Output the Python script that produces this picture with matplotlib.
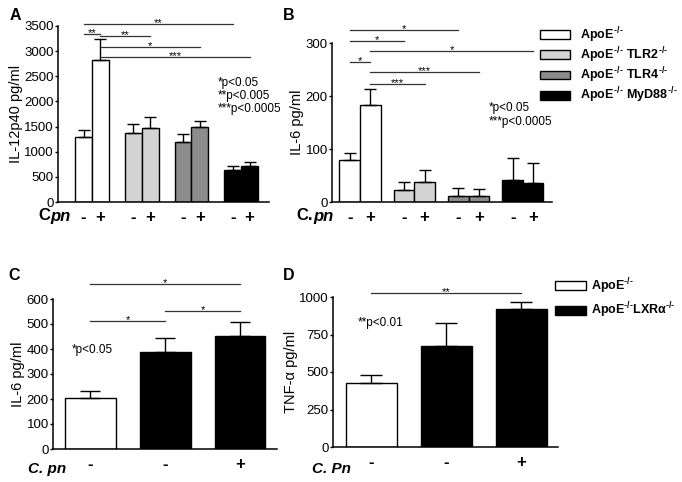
import matplotlib.pyplot as plt
from matplotlib.patches import Patch

plt.rcParams['font.family'] = ['Liberation Sans', 'DejaVu Sans']
plt.rcParams['mathtext.fontset'] = 'custom'
plt.rcParams['mathtext.rm'] = 'Liberation Sans'
plt.rcParams['mathtext.it'] = 'Liberation Sans:italic'
plt.rcParams['mathtext.bf'] = 'Liberation Sans:bold'
plt.rcParams['mathtext.default'] = 'regular'

# ---- data ----
# panel A: IL-12p40, 4 genotypes x (-/+ Cpn)
a_vals = [1290, 2830, 1380, 1470, 1190, 1490, 630, 720]
a_err = [150, 420, 170, 230, 170, 130, 90, 70]
# panel B: IL-6, same groups
b_vals = [80, 183, 22, 37, 12, 11, 42, 36]
b_err = [13, 30, 15, 23, 14, 13, 42, 37]
cpn_ab = ['-', '+'] * 4
ko = '$^{\\,\u2010/\u2010}$'
genotypes = ['ApoE' + ko, 'ApoE' + ko + ' TLR2' + ko,
             'ApoE' + ko + ' TLR4' + ko, 'ApoE' + ko + ' MyD88' + ko]
geno_colors = ['white', '#d3d3d3', '#8c8c8c', 'black']

# panels C and D
c_vals = [203, 388, 452]
c_err = [28, 57, 57]
d_vals = [430, 675, 922]
d_err = [50, 155, 46]
cpn_cd = ['-', '-', '+']
ko2 = '$^{\u2010/\u2010}$'
lxr_groups = ['ApoE' + ko2, 'ApoE' + ko2 + 'LXR\u03b1' + ko2]
cd_colors = ['white', 'black', 'black']

# significance lines: (bar i, bar j, height, stars)
a_sig = [(0, 6, 3540, '**'), (0, 1, 3340, '**'), (1, 3, 3300, '**'),
         (1, 5, 3080, '*'), (1, 7, 2880, '***')]
b_sig = [(0, 4, 326, '*'), (0, 2, 305, '*'), (1, 7, 285, '*'),
         (0, 1, 264, '*'), (1, 5, 246, '***'), (1, 3, 223, '***')]
c_sig = [(0, 2, 659, '*'), (1, 2, 552, '*'), (0, 1, 512, '*')]
d_sig = [(0, 2, 1028, '**')]

W, H = 682, 482
fig = plt.figure(figsize=(W / 100, H / 100), dpi=100)


def make_ax(x0, x1, y_top, y_bot):
    return fig.add_axes([x0 / W, 1 - y_bot / H, (x1 - x0) / W, (y_bot - y_top) / H])


def style(ax, ylabel, yticks):
    for s in ['top', 'right']:
        ax.spines[s].set_visible(False)
    for s in ['left', 'bottom']:
        ax.spines[s].set_linewidth(1.1)
    ax.set_ylim(yticks[0], yticks[-1])
    ax.set_yticks(yticks)
    ax.tick_params(axis='y', length=2.5, width=1, labelsize=9.5, pad=0.5)
    ax.tick_params(axis='x', length=0, labelsize=12, pad=6)
    for t in ax.get_xticklabels():
        t.set_fontweight('bold')
    ax.set_ylabel(ylabel, fontsize=10.5, labelpad=1)


def sig_lines(ax, xs, sig):
    for i, j, h, stars in sig:
        ax.plot([xs[i], xs[j]], [h, h], color='#333333', lw=0.9, clip_on=False)
        ax.annotate(stars, ((xs[i] + xs[j]) / 2, h), xytext=(0, -3),
                    textcoords='offset points', ha='center', va='bottom',
                    fontsize=8, annotation_clip=False)


# ---- panel A ----
axA = make_ax(58, 269, 26, 202)
wA = 0.34
xA = [g + (k - 0.5) * wA for g in range(4) for k in range(2)]
colA = [c for c in geno_colors for _ in range(2)]
axA.bar(xA, a_vals, width=wA, color=colA, edgecolor='black', lw=1)
axA.errorbar(xA, a_vals, yerr=[[0] * 8, a_err], fmt='none', ecolor='black',
             elinewidth=1, capsize=4, capthick=1)
axA.set_xlim(-0.684, 3.56)
axA.set_xticks(xA)
axA.set_xticklabels(cpn_ab)
style(axA, 'IL-12p40 pg/ml', list(range(0, 3501, 500)))
sig_lines(axA, xA, a_sig)
for k, t in enumerate(['*p<0.05', '**p<0.005', '***p<0.0005']):
    axA.text(2.52, 2360 - k * 260, t, fontsize=8.5, va='center')

# ---- panel B ----
axB = make_ax(332, 552, 43.3, 202)
wB = 0.378
xB = [g + (k - 0.5) * wB for g in range(4) for k in range(2)]
axB.bar(xB, b_vals, width=wB, color=colA, edgecolor='black', lw=1)
axB.errorbar(xB, b_vals, yerr=[[0] * 8, b_err], fmt='none', ecolor='black',
             elinewidth=1, capsize=4, capthick=1)
axB.set_xlim(-0.516, 3.536)
axB.set_xticks(xB)
axB.set_xticklabels(cpn_ab)
style(axB, 'IL-6 pg/ml', [0, 100, 200, 300])
sig_lines(axB, xB, b_sig)
axB.text(2.38, 178, '*p<0.05', fontsize=8.5, va='center')
axB.text(2.38, 152, '***p<0.0005', fontsize=8.5, va='center')
handles = [Patch(facecolor=c, edgecolor='black', lw=1) for c in geno_colors]
fig.legend(handles, genotypes, loc='upper left', bbox_to_anchor=(540 / W, 1 - 25 / H),
           frameon=False, prop={'weight': 'bold', 'size': 9}, handlelength=2.4,
           handleheight=0.7, handletextpad=0.8, labelspacing=0.05,
           borderpad=0, borderaxespad=0)

# ---- panel C ----
axC = make_ax(53, 277, 299, 449)
xC = list(range(3))
axC.bar(xC, c_vals, width=0.68, color=cd_colors, edgecolor='black', lw=1)
axC.errorbar(xC, c_vals, yerr=[[0] * 3, c_err], fmt='none', ecolor='black',
             elinewidth=1, capsize=7, capthick=1)
axC.set_xlim(-0.5, 2.495)
axC.set_xticks(xC)
axC.set_xticklabels(cpn_cd)
style(axC, 'IL-6 pg/ml', list(range(0, 601, 100)))
sig_lines(axC, xC, c_sig)
axC.text(-0.25, 398, '*p<0.05', fontsize=8.5, va='center')

# ---- panel D ----
axD = make_ax(333, 558, 297, 447)
xD = list(range(3))
axD.bar(xD, d_vals, width=0.68, color=cd_colors, edgecolor='black', lw=1)
axD.errorbar(xD, d_vals, yerr=[[0] * 3, d_err], fmt='none', ecolor='black',
             elinewidth=1, capsize=8, capthick=1)
axD.set_xlim(-0.513, 2.487)
axD.set_xticks(xD)
axD.set_xticklabels(cpn_cd)
style(axD, 'TNF-\u03b1 pg/ml', [0, 250, 500, 750, 1000])
sig_lines(axD, xD, d_sig)
axD.text(-0.18, 827, '**p<0.01', fontsize=8.5, va='center')
handles = [Patch(facecolor=c, edgecolor='black', lw=1) for c in ['white', 'black']]
fig.legend(handles, lxr_groups, loc='upper left', bbox_to_anchor=(555 / W, 1 - 276 / H),
           frameon=False, prop={'weight': 'bold', 'size': 9}, handlelength=2.5,
           handleheight=0.7, handletextpad=0.35, labelspacing=0.4,
           borderpad=0, borderaxespad=0)

# ---- panel letters and Cpn labels ----
for txt, x, y in [('A', 10, 15), ('B', 283, 15), ('C', 8, 275), ('D', 283, 275)]:
    fig.text(x / W, 1 - y / H, txt, fontsize=11.5, fontweight='bold', va='center')

fig.text(50 / W, 1 - 216 / H, 'C', fontsize=12, fontweight='bold', ha='right', va='center')
fig.text(50 / W, 1 - 216 / H, 'pn', fontsize=12, fontweight='bold', style='italic',
         ha='left', va='center')
fig.text(313 / W, 1 - 216 / H, 'C.', fontsize=12, fontweight='bold', ha='right', va='center')
fig.text(313 / W, 1 - 216 / H, 'pn', fontsize=12, fontweight='bold', style='italic',
         ha='left', va='center')
fig.text(28 / W, 1 - 469 / H, 'C. pn', fontsize=11, fontweight='bold', style='italic',
         ha='left', va='center')
fig.text(312 / W, 1 - 469 / H, 'C. Pn', fontsize=11, fontweight='bold', style='italic',
         ha='left', va='center')

fig.savefig('out.png', dpi=100)
